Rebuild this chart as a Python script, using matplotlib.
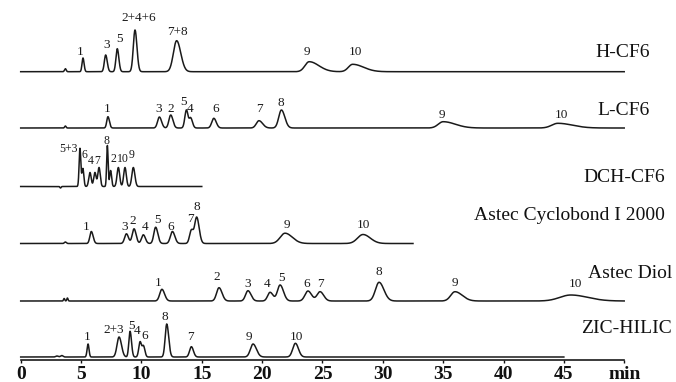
import matplotlib.pyplot as plt
import numpy as np

# ---- chromatogram peak tables (retention time in min, peak height, peak width, tail width) ----
h_cf6_rt = [3.7, 5.16, 7.04, 8.0, 9.47, 12.92, 23.9, 27.5]
h_cf6_height = [3, 13.7, 16.7, 23, 41.7, 31, 10, 7.4]
h_cf6_sigma = [0.07, 0.08, 0.11, 0.11, 0.14, 0.27, 0.35, 0.35]
h_cf6_tail = [0.07, 0.09, 0.13, 0.13, 0.16, 0.34, 0.8, 0.9]
h_cf6_labels = ['', '1', '3', '5', '2+4+6', '7+8', '9', '10']
h_cf6_end = 50

l_cf6_rt = [3.7, 7.23, 11.49, 12.43, 13.73, 14.08, 16.0, 19.74, 21.6, 35.0, 44.5]
l_cf6_height = [2, 11.3, 11, 13, 18, 10, 9.7, 7.3, 18, 6.3, 4.7]
l_cf6_sigma = [0.06, 0.1, 0.15, 0.15, 0.13, 0.12, 0.17, 0.22, 0.22, 0.4, 0.5]
l_cf6_tail = [0.06, 0.12, 0.18, 0.18, 0.13, 0.15, 0.2, 0.3, 0.28, 1.0, 1.2]
l_cf6_labels = ['', '1', '3', '2', '5', '4', '6', '7', '8', '9', '10']
l_cf6_end = 50

dch_cf6_rt = [3.3, 4.91, 5.15, 5.74, 6.15, 6.49, 7.18, 7.45, 8.09, 8.64, 9.33]
dch_cf6_height = [-1.5, 38, 18, 14, 14, 19, 41, 16, 19, 19, 19]
dch_cf6_sigma = [0.05, 0.07, 0.08, 0.1, 0.1, 0.1, 0.06, 0.08, 0.11, 0.11, 0.12]
dch_cf6_tail = [0.05, 0.07, 0.08, 0.1, 0.1, 0.1, 0.06, 0.08, 0.11, 0.11, 0.13]
dch_cf6_labels = ['', '5+3', '6', '4', '7', '', '8', '2', '10', '', '9']
dch_cf6_end = 15

cyclo_rt = [3.7, 5.85, 8.76, 9.39, 10.16, 11.18, 12.57, 14.14, 14.58, 21.9, 28.36]
cyclo_height = [1.5, 12, 9.7, 14.7, 8.7, 16.3, 12, 13, 26.3, 10.3, 9]
cyclo_sigma = [0.08, 0.12, 0.15, 0.15, 0.15, 0.15, 0.17, 0.15, 0.17, 0.4, 0.45]
cyclo_tail = [0.08, 0.15, 0.17, 0.17, 0.17, 0.18, 0.2, 0.15, 0.2, 0.6, 0.6]
cyclo_labels = ['', '1', '3', '2', '4', '5', '6', '7', '8', '9', '10']
cyclo_end = 32.5

diol_rt = [3.6, 3.87, 11.7, 16.43, 18.83, 20.66, 21.49, 23.8, 24.8, 29.69, 35.98, 45.57]
diol_height = [2.5, 3, 11.7, 13.3, 10.3, 8.7, 16, 10, 9.3, 18.7, 9.3, 6]
diol_sigma = [0.05, 0.05, 0.18, 0.2, 0.2, 0.2, 0.22, 0.25, 0.25, 0.3, 0.35, 0.9]
diol_tail = [0.05, 0.05, 0.22, 0.25, 0.25, 0.25, 0.28, 0.3, 0.3, 0.4, 0.6, 1.4]
diol_labels = ['', '', '1', '2', '3', '4', '5', '6', '7', '8', '9', '10']
diol_end = 50

zic_rt = [3.0, 3.4, 5.58, 8.15, 9.06, 9.89, 10.17, 12.1, 14.14, 19.25, 22.76]
zic_height = [1, 1.5, 13, 20, 25.7, 15, 11, 33, 10.3, 13, 13.7]
zic_sigma = [0.1, 0.1, 0.08, 0.17, 0.1, 0.11, 0.11, 0.13, 0.15, 0.22, 0.22]
zic_tail = [0.1, 0.1, 0.08, 0.2, 0.12, 0.11, 0.12, 0.16, 0.17, 0.28, 0.25]
zic_labels = ['', '', '1', '2+3', '5', '4', '6', '8', '7', '9', '10']
zic_end = 45

column_names = ['H-CF6', 'L-CF6', 'DCH-CF6', 'Astec Cyclobond I 2000', 'Astec Diol', 'ZIC-HILIC']
time_ticks = list(range(0, 51, 5))
time_tick_labels = [str(v) for v in time_ticks[:-1]] + ['min']

# ---- layout (pixels) ----
W, H = 676, 382
X0 = 20.7          # pixel of t = 0
PPM = 12.07        # pixels per minute
AXIS_Y = 22.5
baselines = [310.3, 254, 195.5, 138.5, 81, 25]
name_pos = [(650, 325), (650, 267), (665, 200.3), (665, 162), (672, 104), (672, 49)]
label_sizes = [9.5, 9.5, 8.5, 9.5, 9.5, 9.5]
label_offsets = [
    [(0, 0), (-3, 6), (1, 10), (2, 10), (4, 12), (1, 9), (-2, 10), (3, 12)],
    [(0, 0), (-1, 8), (-1, 8), (0, 6), (-3, 8), (-1, 9), (2, 9), (0, 12), (-1, 7), (-1, 7), (4, 8)],
    [(0, 0), (-11, 0), (2, 13), (0.5, 11.7), (1.8, 11), (0, 0), (-1, 5), (2.5, 11), (4.5, 8.4), (0, 0),
     (-2, 12.7)],
    [(0, 0), (-4.7, 5), (-1.4, 7.3), (-1.6, 8.3), (1.3, 8.3), (1.7, 7.4), (-1.7, 4.3), (-0.7, 11), (0, 10),
     (1.7, 7.7), (0, 9)],
    [(0, 0), (0, 0), (-4, 6), (-2.3, 10.4), (0, 6.4), (-2.6, 8), (1.7, 6.7), (-1.3, 6.7), (0, 7.4), (-0.6, 10.6),
     (0, 8.4), (5, 10.7)],
    [(0, 0), (0, 0), (-1.3, 7.3), (-5.6, 7.3), (1.4, 5.7), (-2.6, 10.7), (1.6, 10), (-2, 6.7), (-0.7, 10),
     (-4, 7.3), (1.3, 6.6)],
]

traces = [
    (h_cf6_rt, h_cf6_height, h_cf6_sigma, h_cf6_tail, h_cf6_labels, h_cf6_end),
    (l_cf6_rt, l_cf6_height, l_cf6_sigma, l_cf6_tail, l_cf6_labels, l_cf6_end),
    (dch_cf6_rt, dch_cf6_height, dch_cf6_sigma, dch_cf6_tail, dch_cf6_labels, dch_cf6_end),
    (cyclo_rt, cyclo_height, cyclo_sigma, cyclo_tail, cyclo_labels, cyclo_end),
    (diol_rt, diol_height, diol_sigma, diol_tail, diol_labels, diol_end),
    (zic_rt, zic_height, zic_sigma, zic_tail, zic_labels, zic_end),
]


def chromatogram(t, rts, heights, sigmas, tails):
    signal = np.zeros_like(t)
    for rt, h, sl, sr in zip(rts, heights, sigmas, tails):
        s = np.where(t < rt, sl, sr)
        signal += h * np.exp(-0.5 * ((t - rt) / s) ** 2)
    return signal


serif = 'Liberation Serif'
fig = plt.figure(figsize=(W / 100, H / 100), dpi=100)
ax = fig.add_axes([0, 0, 1, 1])
ax.set_xlim(-X0 / PPM, (W - X0) / PPM)
ax.set_ylim(0, H)

for i, (rts, heights, sigmas, tails, labels, end) in enumerate(traces):
    base = baselines[i]
    t = np.linspace(0, end, 4000)
    ax.plot(t, base + chromatogram(t, rts, heights, sigmas, tails), color='#1a1a1a', lw=1.1)
    for rt, h, lab, (dx, dy) in zip(rts, heights, labels, label_offsets[i]):
        if lab:
            ax.text(rt + dx / PPM, base + h + dy, lab, ha='center', va='center',
                    fontsize=label_sizes[i], family=serif, color='#1a1a1a')
    nx, ny = name_pos[i]
    ax.text((nx - X0) / PPM, ny, column_names[i], ha='right', va='baseline',
            fontsize=14, family=serif, color='#111111')

# time axis
for side in ['top', 'left', 'right']:
    ax.spines[side].set_visible(False)
ax.spines['bottom'].set_position(('data', AXIS_Y))
ax.spines['bottom'].set_bounds(0, 50)
ax.spines['bottom'].set_linewidth(1.2)
ax.spines['bottom'].set_color('#1a1a1a')
ax.set_yticks([])
ax.set_xticks(time_ticks)
ax.set_xticklabels(time_tick_labels, fontsize=14, family=serif, fontweight='bold')
ax.tick_params(axis='x', direction='out', length=2.5, width=1, pad=2.5, colors='#111111')
ax.patch.set_visible(False)

fig.savefig('out.png', dpi=100)
